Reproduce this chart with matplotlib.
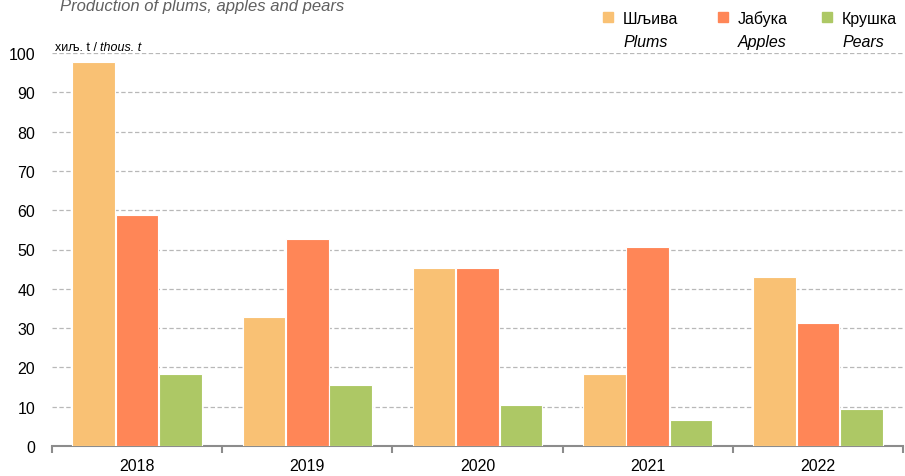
import matplotlib.pyplot as plt
from matplotlib.patches import Rectangle
import numpy as np

plt.rcParams['font.family'] = ['Liberation Sans', 'DejaVu Sans']

years = ['2018', '2019', '2020', '2021', '2022']
plums = [97.8, 32.8, 45.4, 18.4, 43.1]
apples = [58.8, 52.7, 45.2, 50.7, 31.4]
pears = [18.4, 15.4, 10.5, 6.7, 9.3]

series_sr = ['Шљива', 'Јабука', 'Крушка']
series_en = ['Plums', 'Apples', 'Pears']
colors = ['#F9C174', '#FF8657', '#ADC865']


def main():
    fig = plt.figure(figsize=(9.05, 4.77), dpi=100)
    ax = fig.add_axes([52 / 905, 1 - 447 / 477, 851 / 905, 393 / 477])

    x = np.arange(len(years))
    width = 0.25
    offsets = [-0.255, 0, 0.255]
    for vals, off, c in zip([plums, apples, pears], offsets, colors):
        ax.bar(x + off, vals, width, color=c, edgecolor='white', linewidth=0.8, zorder=3)

    ax.set_xlim(-0.5, len(years) - 0.5)
    ax.set_ylim(0, 100)
    ax.set_yticks(np.arange(0, 101, 10))
    ax.yaxis.grid(True, linestyle=(0, (3.5, 2)), color='#b8b8b8', linewidth=0.9, zorder=0)
    ax.tick_params(axis='y', length=0, pad=12, labelsize=11.5)

    # year labels centred, ticks between groups
    ax.set_xticks(x)
    ax.set_xticklabels(years, fontsize=11.5)
    ax.tick_params(axis='x', which='major', length=0, pad=9)
    ax.set_xticks(np.arange(-0.5, len(years), 1), minor=True)
    ax.tick_params(axis='x', which='minor', length=5, width=1.5, color='#8c8c8c')

    for s in ['top', 'right', 'left']:
        ax.spines[s].set_visible(False)
    ax.spines['bottom'].set_color('#8c8c8c')
    ax.spines['bottom'].set_linewidth(1.5)

    t1 = fig.text(55 / 905, 1 - 51 / 477, 'хиљ. t / ', fontsize=9, va='baseline')
    fig.canvas.draw()
    bb = t1.get_window_extent()
    fig.text(bb.x1 / fig.bbox.width, 1 - 51 / 477, 'thous. t', fontsize=9,
             style='italic', va='baseline')
    fig.text(60 / 905, 1 - 11 / 477, 'Production of plums, apples and pears',
             fontsize=12, style='italic', color='#606060', va='baseline')

    # legend
    lx = [603, 718, 822]
    for px, sr, en, c in zip(lx, series_sr, series_en, colors):
        fig.add_artist(Rectangle((px / 905, 1 - 23 / 477), 10 / 905, 10 / 477,
                                 transform=fig.transFigure, color=c))
        fig.text((px + 20) / 905, 1 - 24 / 477, sr, fontsize=11.5, va='baseline')
        fig.text((px + 20) / 905, 1 - 47 / 477, en, fontsize=11.5, style='italic', va='baseline')

    fig.savefig('out.png', dpi=100)


if __name__ == "__main__":
    main()
